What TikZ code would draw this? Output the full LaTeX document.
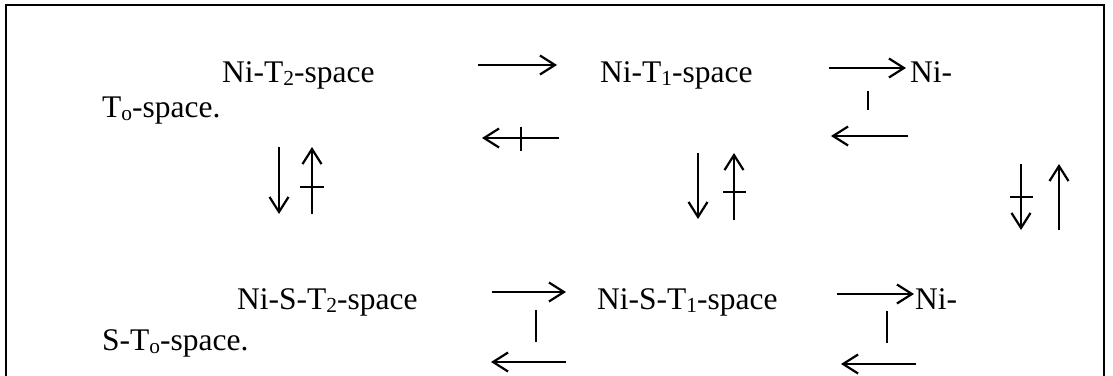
\documentclass[tikz,border=0pt]{standalone}
\usepackage{fontspec}
\setmainfont{Liberation Serif}
\usetikzlibrary{arrows.meta}
\newcommand\subsc[1]{\raisebox{-0.12em}{\scalebox{0.68}{#1}}}
\tikzset{
  lbl/.style={anchor=base west, inner sep=0pt, font=\fontsize{31.5}{36}\selectfont},
  arr/.style={line width=2.2pt, -{Straight Barb[length=15pt,width=19pt,line width=2.2pt]}},
  tick/.style={line width=2.2pt},
  frame/.style={line width=2.6pt}
}
\begin{document}
\begin{tikzpicture}[x=1pt,y=-1pt]
\useasboundingbox (0,0) rectangle (1113,375);
\draw[frame] (6,376) -- (6,5) -- (1104,5) -- (1104,376);
% texts row 1
\node[lbl] (nt2) at (222,82) {Ni-T\subsc{2}-space};
\node[lbl] (to1) at (102,117) {T\subsc{o}-space.};
\node[lbl] (nt1) at (600,82) {Ni-T\subsc{1}-space};
\node[lbl] (ni1) at (910,82) {Ni-};
% texts row 2
\node[lbl] (nst2) at (237,309) {Ni-S-T\subsc{2}-space};
\node[lbl] (sto) at (102,350) {S-T\subsc{o}-space.};
\node[lbl] (nst1) at (597,309) {Ni-S-T\subsc{1}-space};
\node[lbl] (ni2) at (915,309) {Ni-};
% coordinates row 1
\coordinate (a1s) at (478,65); \coordinate (a1e) at (557,65);
\coordinate (a4s) at (559,138); \coordinate (a4e) at (482,138);
\coordinate (t4s) at (521,127); \coordinate (t4e) at (521,151);
\coordinate (a2s) at (829,68); \coordinate (a2e) at (906,68);
\coordinate (t2s) at (868,91); \coordinate (t2e) at (868,110);
\coordinate (a3s) at (908,136); \coordinate (a3e) at (831,136);
% row 2 horizontals
\coordinate (b1s) at (492,292); \coordinate (b1e) at (566,292);
\coordinate (u1s) at (536,310); \coordinate (u1e) at (536,342);
\coordinate (b2s) at (566,362); \coordinate (b2e) at (491,362);
\coordinate (b3s) at (837,294); \coordinate (b3e) at (914,294);
\coordinate (u2s) at (887,311); \coordinate (u2e) at (887,343);
\coordinate (b4s) at (916,364); \coordinate (b4e) at (841,364);
% verticals
\coordinate (vl1s) at (279,147); \coordinate (vl1e) at (279,214);
\coordinate (vl2s) at (312,214); \coordinate (vl2e) at (312,147);
\coordinate (tl2s) at (300,187); \coordinate (tl2e) at (324,187);
\coordinate (vm1s) at (698,153); \coordinate (vm1e) at (698,219);
\coordinate (vm2s) at (734,220); \coordinate (vm2e) at (734,153);
\coordinate (tm2s) at (723,192); \coordinate (tm2e) at (746,192);
\coordinate (vr1s) at (1021,164); \coordinate (vr1e) at (1021,230);
\coordinate (tr1s) at (1010,197); \coordinate (tr1e) at (1033,197);
\coordinate (vr2s) at (1059,230); \coordinate (vr2e) at (1059,164);
% draw
\draw[arr] (a1s) -- (a1e);
\draw[arr] (a4s) -- (a4e);
\draw[tick] (t4s) -- (t4e);
\draw[arr] (a2s) -- (a2e);
\draw[tick] (t2s) -- (t2e);
\draw[arr] (a3s) -- (a3e);
\draw[arr] (b1s) -- (b1e);
\draw[tick] (u1s) -- (u1e);
\draw[arr] (b2s) -- (b2e);
\draw[arr] (b3s) -- (b3e);
\draw[tick] (u2s) -- (u2e);
\draw[arr] (b4s) -- (b4e);
\draw[arr] (vl1s) -- (vl1e);
\draw[arr] (vl2s) -- (vl2e);
\draw[tick] (tl2s) -- (tl2e);
\draw[arr] (vm1s) -- (vm1e);
\draw[arr] (vm2s) -- (vm2e);
\draw[tick] (tm2s) -- (tm2e);
\draw[arr] (vr1s) -- (vr1e);
\draw[tick] (tr1s) -- (tr1e);
\draw[arr] (vr2s) -- (vr2e);
\end{tikzpicture}
\end{document}
